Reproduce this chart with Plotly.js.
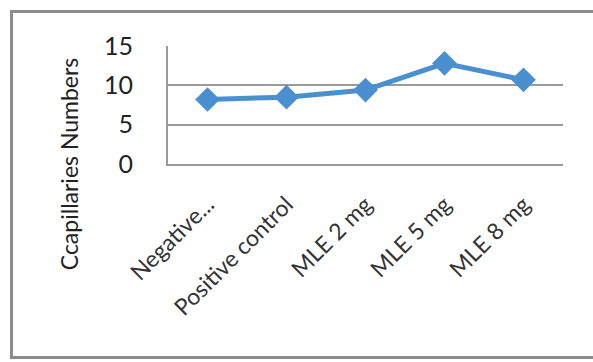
<!DOCTYPE html>
<html>
<head>
<meta charset="utf-8">
<script src="https://cdn.plot.ly/plotly-3.0.1.min.js"></script>
<style>
  html, body { margin: 0; padding: 0; background: #fff; }
  #wrap { position: relative; width: 593px; height: 362px; overflow: hidden; }
  #frame { position: absolute; left: 10px; top: 10px; width: 600px; height: 349px;
           border: 3px solid #8c8c8c; box-sizing: border-box; pointer-events: none; }
  #chart { position: absolute; left: 0; top: 0; width: 593px; height: 362px; }
</style>
</head>
<body>
<div id="wrap">
  <div id="chart"></div>
  <div id="frame"></div>
</div>
<script>
const categories = ["Negative...", "Positive control", "MLE 2 mg", "MLE 5 mg", "MLE 8 mg"];
const capillaries = [8.2, 8.5, 9.4, 12.8, 10.7];
const yTicks = [0, 5, 10, 15];
const yTitle = "Ccapillaries Numbers";

const FONT = "Lato, 'Open Sans', sans-serif";

const trace = {
  type: "scatter",
  mode: "lines+markers",
  x: categories,
  y: capillaries,
  line: { color: "#4a8fd0", width: 5 },
  marker: { symbol: "diamond", size: 19, color: "#4a8fd0" },
  hoverinfo: "skip"
};

const layout = {
  width: 593,
  height: 362,
  margin: { l: 168, r: 30, t: 46, b: 198, pad: 0 },
  paper_bgcolor: "rgba(0,0,0,0)",
  plot_bgcolor: "#ffffff",
  showlegend: false,
  font: { family: FONT, color: "#222" },
  xaxis: {
    type: "category",
    showgrid: false,
    showline: true,
    linecolor: "#9a9a9a",
    linewidth: 2,
    ticks: "",
    tickangle: -45,
    ticklabelstandoff: 16,
    tickfont: { family: FONT, size: 23, color: "#333" },
    range: [-0.5, 4.5],
    fixedrange: true
  },
  yaxis: {
    range: [0, 15],
    tickvals: yTicks,
    ticktext: yTicks.map(String),
    showgrid: true,
    gridcolor: "#9a9a9a",
    gridwidth: 2,
    showline: true,
    linecolor: "#9a9a9a",
    linewidth: 2,
    zeroline: false,
    ticks: "",
    ticklabelstandoff: 28,
    tickfont: { family: FONT, size: 25, color: "#222" },
    fixedrange: true
  },
  annotations: [{
    text: yTitle,
    xref: "paper", yref: "paper",
    x: -0.25, y: 0.0,
    xanchor: "center", yanchor: "middle",
    textangle: -90,
    showarrow: false,
    font: { family: FONT, size: 23, color: "#222" }
  }]
};

Plotly.newPlot("chart", [trace], layout, { staticPlot: true, displayModeBar: false });
</script>
</body>
</html>
